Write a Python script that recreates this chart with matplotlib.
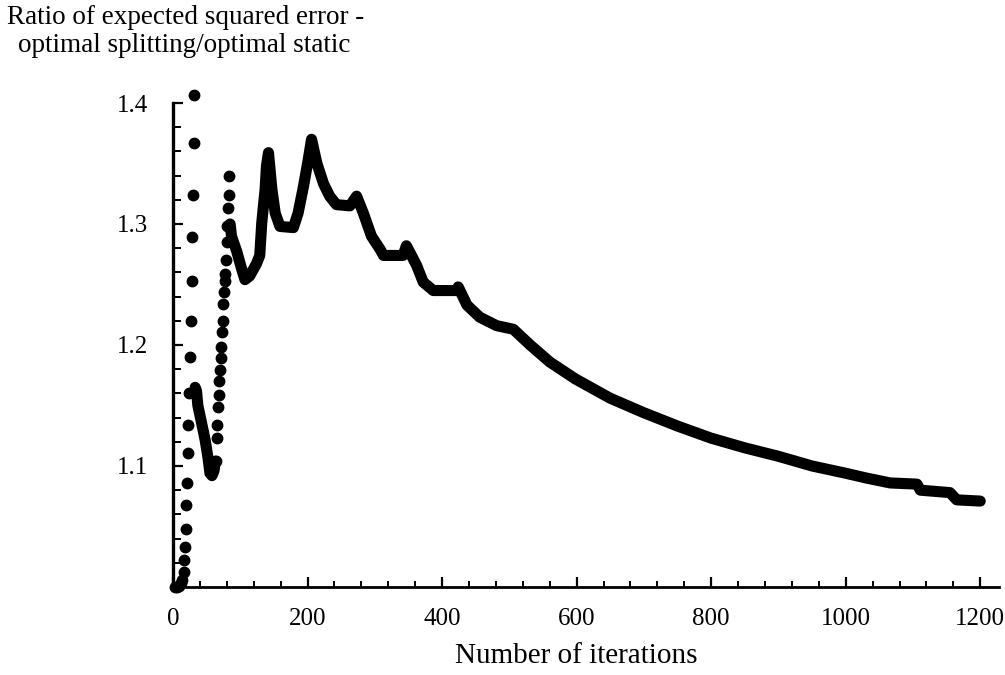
import matplotlib
matplotlib.use("Agg")
import matplotlib.pyplot as plt
from matplotlib.ticker import MultipleLocator

plt.rcParams['font.family'] = ['Liberation Serif', 'DejaVu Serif']

# dotted stretches (one point per iteration, steep so dots are separate)
dots1_x = [3, 6, 9, 12, 14, 16, 17, 18, 19, 20, 21, 22, 23, 24, 25, 27, 28, 29, 30, 31, 32]
dots1_y = [1.000, 1.000, 1.001, 1.003, 1.006, 1.012, 1.022, 1.033, 1.048, 1.068, 1.086,
           1.111, 1.134, 1.160, 1.190, 1.220, 1.253, 1.289, 1.324, 1.367, 1.407]

dots2_x = [64, 65, 66, 67, 68, 69, 70, 71, 72, 73, 74, 75, 76, 77, 78, 79, 80, 81, 82, 83, 84]
dots2_y = [1.104, 1.123, 1.134, 1.149, 1.159, 1.170, 1.179, 1.189, 1.198, 1.211, 1.220,
           1.234, 1.244, 1.253, 1.259, 1.270, 1.285, 1.298, 1.313, 1.324, 1.340]

# dense stretches (points overlap into a thick trace)
solid1_x = [33, 35, 37, 42, 48, 52, 55, 58, 61, 63]
solid1_y = [1.165, 1.162, 1.150, 1.137, 1.121, 1.107, 1.094, 1.092, 1.096, 1.104]

solid2_x = [85, 87, 95, 102, 107, 114, 124, 129, 132, 137, 139, 142, 147, 152, 159, 179,
            186, 194, 201, 206, 214, 224, 233, 243, 263, 273, 283, 295, 308, 313, 342,
            347, 362, 372, 387, 422, 424, 437, 456, 481, 506, 531, 560, 598, 650, 700,
            750, 800, 850, 900, 950, 1000, 1031, 1066, 1106, 1111, 1155, 1165, 1200]
solid2_y = [1.300, 1.290, 1.277, 1.263, 1.254, 1.257, 1.267, 1.274, 1.301, 1.329, 1.348,
            1.359, 1.329, 1.309, 1.298, 1.297, 1.309, 1.331, 1.353, 1.370, 1.350, 1.333,
            1.323, 1.316, 1.315, 1.323, 1.309, 1.290, 1.279, 1.274, 1.274, 1.282, 1.266,
            1.252, 1.245, 1.245, 1.248, 1.233, 1.223, 1.216, 1.213, 1.200, 1.186, 1.172,
            1.156, 1.144, 1.133, 1.123, 1.115, 1.108, 1.100, 1.094, 1.090, 1.086, 1.085,
            1.080, 1.078, 1.072, 1.071]

fig = plt.figure(figsize=(10.05, 6.75), dpi=100)
ax = fig.add_axes([0.1721, 0.1304, 0.822, 0.717])

for xs, ys in [(solid1_x, solid1_y), (solid2_x, solid2_y)]:
    ax.plot(xs, ys, color='black', lw=8, solid_capstyle='round',
            solid_joinstyle='round', clip_on=False)
for xs, ys in [(dots1_x, dots1_y), (dots2_x, dots2_y)]:
    ax.plot(xs, ys, 'o', color='black', ms=7.5, clip_on=False)

ax.set_xlim(0, 1228)
ax.set_ylim(1.0, 1.4)
ax.spines['top'].set_visible(False)
ax.spines['right'].set_visible(False)
ax.spines['left'].set_linewidth(2.4)
ax.spines['bottom'].set_linewidth(2.0)

ax.set_xticks([0, 200, 400, 600, 800, 1000, 1200])
ax.set_yticks([1.1, 1.2, 1.3, 1.4])
ax.set_yticklabels(['1.1', '1.2', '1.3', '1.4'])
ax.xaxis.set_minor_locator(MultipleLocator(40))
ax.yaxis.set_minor_locator(MultipleLocator(0.02))
ax.tick_params(which='major', direction='in', length=7, width=1.6, labelsize=18, pad=15)
ax.tick_params(which='minor', direction='in', length=4, width=1.4)
ax.tick_params(axis='y', which='minor', length=5.5)
ax.tick_params(axis='y', which='major', pad=18)

fig.text(7 / 1005, 1 - 18 / 675, 'Ratio of expected squared error -', fontsize=19.5,
         ha='left', va='center')
fig.text(18 / 1005, 1 - 46 / 675, 'optimal splitting/optimal static', fontsize=19.5,
         ha='left', va='center')
fig.text(576 / 1005, 1 - 656 / 675, 'Number of iterations', fontsize=21,
         ha='center', va='center')

fig.savefig('out.png', dpi=100)
